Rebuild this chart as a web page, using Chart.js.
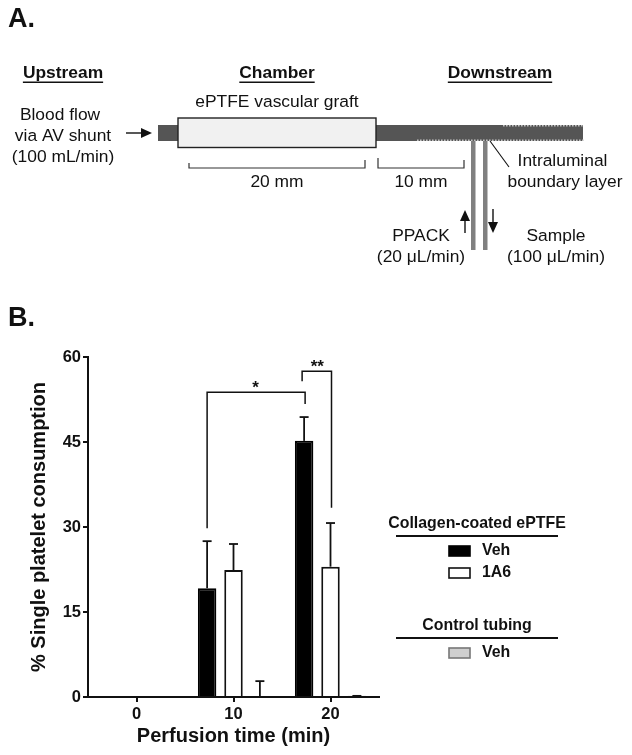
<!DOCTYPE html>
<html><head><meta charset="utf-8">
<script src="https://cdn.jsdelivr.net/npm/chart.js@4"></script>
<style>html,body{margin:0;padding:0;background:#fff}canvas{display:block}</style>
</head><body>
<canvas id="c" width="632" height="755"></canvas>
<script>
const categories = ["0", "10", "20"];
const vehValues  = [null, 19.2, 45.2];
const a6Values   = [null, 22.4, 23.0];
const ctrlValues = [null, 0, 0.2];
const vehErrTop  = [null, 27.5, 49.4];
const a6ErrTop   = [null, 27.0, 30.7];
const ctrlErrTop = [null, 2.8, 0.2];
const yTicks = [0, 15, 30, 45, 60];
const starBracket = [29.8, 53.8, 51.7];
const doubleStarBracket = [55.7, 57.5, 33.4];
const legendGroupA = "Collagen-coated ePTFE";
const legendGroupB = "Control tubing";
const seriesNames = ["Veh", "1A6", "Veh"];
const FONT = '"Liberation Sans", Arial, sans-serif';
const INK = "#111";
const SZ = 17.4;

function text(ctx, s, x, y, size, bold, align, underline) {
  ctx.font = (bold ? "bold " : "") + size + "px " + FONT;
  ctx.fillStyle = INK;
  ctx.textAlign = align || "center";
  ctx.textBaseline = "middle";
  ctx.fillText(s, x, y);
  if (underline) {
    const w = ctx.measureText(s).width;
    ctx.fillRect(x - w / 2, y + 8.5, w, 1.5);
  }
}
function line(ctx, pts, w, col) {
  ctx.beginPath();
  pts.forEach((p, i) => i ? ctx.lineTo(p[0], p[1]) : ctx.moveTo(p[0], p[1]));
  ctx.lineWidth = w; ctx.strokeStyle = col || INK; ctx.stroke();
}
function arrow(ctx, x1, y1, x2, y2) {
  const horiz = y1 === y2, d = horiz ? Math.sign(x2 - x1) : Math.sign(y2 - y1), L = 11, W = 5;
  if (horiz) {
    line(ctx, [[x1, y1], [x2 - d * L, y2]], 1.4);
    ctx.beginPath(); ctx.moveTo(x2, y2); ctx.lineTo(x2 - d * L, y2 - W); ctx.lineTo(x2 - d * L, y2 + W);
  } else {
    line(ctx, [[x1, y1], [x2, y2 - d * L]], 1.4);
    ctx.beginPath(); ctx.moveTo(x2, y2); ctx.lineTo(x2 - W, y2 - d * L); ctx.lineTo(x2 + W, y2 - d * L);
  }
  ctx.closePath(); ctx.fillStyle = INK; ctx.fill();
}
function brace(ctx, x1, x2, y1, y2, y3) {
  line(ctx, [[x1, y1], [x1, y3], [x2, y3], [x2, y2]], 1.2, "#333");
}

const errorBars = {
  id: "errorBars",
  afterDatasetsDraw(chart) {
    const ctx = chart.ctx, y = chart.scales.y;
    [vehErrTop, a6ErrTop, ctrlErrTop].forEach((tops, di) => {
      chart.getDatasetMeta(di).data.forEach((bar, i) => {
        if (tops[i] == null) return;
        const vals = chart.data.datasets[di].data;
        const yTop = y.getPixelForValue(tops[i]), yBase = y.getPixelForValue(vals[i]);
        line(ctx, [[bar.x, yBase], [bar.x, yTop]], 1.8);
        line(ctx, [[bar.x - 4.5, yTop], [bar.x + 4.5, yTop]], 1.8);
      });
    });
  }
};

const annotations = {
  id: "annotations",
  afterDraw(chart) {
    const ctx = chart.ctx, y = chart.scales.y;
    ctx.save();
    const v = d => y.getPixelForValue(d);
    const b10 = chart.getDatasetMeta(0).data[1].x, b20 = chart.getDatasetMeta(0).data[2].x, w20 = chart.getDatasetMeta(1).data[2].x;
    line(ctx, [[b10, v(starBracket[0])], [b10, v(starBracket[1])], [b20 + 1, v(starBracket[1])], [b20 + 1, v(starBracket[2])]], 1.5);
    line(ctx, [[b20 - 2, v(doubleStarBracket[0])], [b20 - 2, v(doubleStarBracket[1])], [w20 + 1, v(doubleStarBracket[1])], [w20 + 1, v(doubleStarBracket[2])]], 1.5);
    text(ctx, "*", (b10 + b20) / 2, v(starBracket[1]) - 4, 17, true);
    text(ctx, "**", (b20 + w20) / 2, v(doubleStarBracket[1]) - 4, 17, true);

    // Legend
    const ds = chart.data.datasets, cx = 477;
    text(ctx, legendGroupA, cx, 524, 15.9, true);
    line(ctx, [[396, 536], [558, 536]], 2);
    text(ctx, legendGroupB, cx, 626, 15.9, true);
    line(ctx, [[396, 638], [558, 638]], 2);
    [[551, 0], [573, 1], [653, 2]].forEach(([ly, di]) => {
      ctx.fillStyle = ds[di].backgroundColor;
      ctx.strokeStyle = ds[di].borderColor;
      ctx.lineWidth = 1.6;
      ctx.fillRect(449, ly - 5, 21, 10);
      ctx.strokeRect(449, ly - 5, 21, 10);
      text(ctx, seriesNames[di], 482, ly, 15.9, true, "left");
    });

    // Panel labels
    text(ctx, "A.", 8, 20, 27, true, "left");
    text(ctx, "B.", 8, 319, 27, true, "left");

    // Panel A schematic
    text(ctx, "Upstream", 63, 73, SZ, true, "center", true);
    text(ctx, "Chamber", 277, 73, SZ, true, "center", true);
    text(ctx, "Downstream", 500, 73, SZ, true, "center", true);
    text(ctx, "ePTFE vascular graft", 277, 102, SZ);
    text(ctx, "Blood flow", 60, 115, SZ);
    text(ctx, "via AV shunt", 63, 136, SZ);
    text(ctx, "(100 mL/min)", 63, 157, SZ);
    arrow(ctx, 126, 133, 152, 133);
    ctx.fillStyle = "#555";
    ctx.fillRect(158, 125, 22, 16);
    ctx.fillRect(376, 125, 207, 16);
    ctx.fillStyle = "#c4c4c4";
    for (let x = 417; x < 583; x += 3) ctx.fillRect(x, 139.5, 1.6, 1.5);
    for (let x = 503; x < 583; x += 3) ctx.fillRect(x, 125, 1.6, 1.5);
    ctx.fillStyle = "#f1f1f1"; ctx.fillRect(178, 118, 198, 29.5);
    ctx.strokeStyle = "#222"; ctx.lineWidth = 1.4; ctx.strokeRect(178, 118, 198, 29.5);
    brace(ctx, 189, 365, 163, 160, 168);
    brace(ctx, 378, 464, 158, 160, 168);
    text(ctx, "20 mm", 277, 182, SZ);
    text(ctx, "10 mm", 421, 182, SZ);
    ctx.fillStyle = "#808080";
    ctx.fillRect(471, 141, 4.5, 109);
    ctx.fillRect(483, 141, 4.5, 109);
    line(ctx, [[490, 141], [509, 167]], 1.1);
    text(ctx, "Intraluminal", 562.5, 161, SZ);
    text(ctx, "boundary layer", 565, 182, SZ);
    arrow(ctx, 465, 233, 465, 210);
    arrow(ctx, 493, 209, 493, 233);
    text(ctx, "PPACK", 421, 236, SZ);
    text(ctx, "(20 \u03BCL/min)", 421, 257, SZ);
    text(ctx, "Sample", 556, 236, SZ);
    text(ctx, "(100 \u03BCL/min)", 556, 257, SZ);
    ctx.restore();
  }
};

const YBOX = 61, XBOX = 51;
new Chart(document.getElementById("c"), {
  type: "bar",
  data: {
    labels: categories,
    datasets: [
      { label: seriesNames[0], data: vehValues, backgroundColor: "#000", borderColor: "#000", borderWidth: 2 },
      { label: seriesNames[1], data: a6Values, backgroundColor: "#fff", borderColor: "#111", borderWidth: 2 },
      { label: seriesNames[2], data: ctrlValues, backgroundColor: "#cfcfcf", borderColor: "#777", borderWidth: 2 }
    ]
  },
  plugins: [errorBars, annotations],
  options: {
    responsive: false,
    animation: false,
    devicePixelRatio: 1,
    categoryPercentage: 0.816,
    barPercentage: 0.7,
    layout: { padding: { left: 27, top: 357, right: 253, bottom: 7 } },
    plugins: { legend: { display: false }, tooltip: { enabled: false } },
    scales: {
      x: {
        afterFit: s => { s.height = XBOX; },
        grid: { drawOnChartArea: false, offset: false, color: INK, lineWidth: 2, tickLength: 5 },
        border: { color: INK, width: 2 },
        ticks: { color: INK, padding: 3, font: { family: FONT, weight: "bold", size: 16.5 }, maxRotation: 0 },
        title: { display: true, text: "Perfusion time (min)", color: INK, padding: 0, font: { family: FONT, weight: "bold", size: 20 } }
      },
      y: {
        min: 0, max: 60,
        afterFit: s => { s.width = YBOX; },
        afterBuildTicks: s => { s.ticks = yTicks.map(v => ({ value: v })); },
        grid: { drawOnChartArea: false, color: INK, lineWidth: 2, tickLength: 5 },
        border: { color: INK, width: 2 },
        ticks: { color: INK, padding: 2, font: { family: FONT, weight: "bold", size: 16.5 } },
        title: { display: true, text: "% Single platelet consumption", color: INK, padding: 0, font: { family: FONT, weight: "bold", size: 20 } }
      }
    }
  }
});
</script>
</body></html>
